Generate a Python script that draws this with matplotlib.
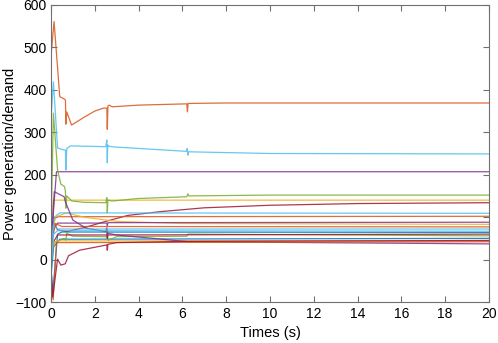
import matplotlib
matplotlib.use('Agg')
from matplotlib import pyplot as plt

# MATLAB default colour order
blue = '#0072bd'
orange = '#d95319'
yellow = '#edb120'
purple = '#7e2f8e'
green = '#77ac30'
cyan = '#4dbeee'
maroon = '#a2142f'

# each line: time keypoints, value keypoints, colour
t_orange1 = [0, 0.14, 0.4, 0.62, 0.66, 0.68, 0.72, 0.94, 1.5, 2.0, 2.4, 2.55, 2.57, 2.6, 2.65, 2.8, 4, 6.2, 6.23, 6.26, 8, 12, 20]
v_orange1 = [480, 561, 384, 378, 376, 319, 348, 317, 335, 350, 357, 357, 307, 362, 364, 360, 364, 367, 348, 368, 369, 369, 369]

t_cyan1 = [0, 0.11, 0.3, 0.62, 0.66, 0.68, 0.72, 0.9, 2.5, 2.55, 2.57, 2.59, 2.62, 3, 6.2, 6.22, 6.25, 6.28, 10, 20]
v_cyan1 = [330, 419, 263, 258, 258, 211, 262, 268, 266, 282, 228, 270, 267, 265, 255, 262, 246, 254, 250, 249]

t_purple1 = [0, 0.12, 0.25, 20]
v_purple1 = [0, 120, 207, 207]

t_green1 = [0, 0.11, 0.3, 0.45, 0.62, 0.66, 0.68, 0.72, 0.95, 1.5, 2.5, 2.55, 2.57, 2.6, 2.8, 4, 6.2, 6.25, 6.3, 10, 20]
v_green1 = [60, 345, 211, 178, 172, 160, 121, 150, 138, 135, 134, 146, 110, 140, 138, 144, 148, 155, 150, 152, 152]

t_yellow1 = [0, 0.1, 20]
v_yellow1 = [70, 140, 140]

t_maroon1 = [0, 0.1, 0.3, 0.7, 1.5, 2.5, 3.5, 5, 7, 10, 14, 20]
v_maroon1 = [40, 90, 70, 66, 75, 90, 104, 113, 122, 128, 132, 134]

t_cyan2 = [0, 0.15, 0.4, 20]
v_cyan2 = [30, 100, 110, 109]

t_orange2 = [0, 0.12, 0.3, 20]
v_orange2 = [20, 95, 101, 102]

t_purple2 = [0, 0.1, 0.3, 2.55, 2.57, 2.6, 20]
v_purple2 = [10, 70, 86, 86, 80, 87, 88]

t_yellow2 = [0, 0.2, 0.7, 1.5, 3, 6, 20]
v_yellow2 = [40, 100, 110, 100, 90, 85, 83]

t_orange3 = [0, 0.2, 0.5, 20]
v_orange3 = [30, 85, 78, 77]

t_cyan3 = [0, 0.1, 0.3, 20]
v_cyan3 = [20, 80, 72, 72]

t_cyan4 = [0, 0.12, 0.3, 20]
v_cyan4 = [-30, 60, 68, 67]

t_blue1 = [0, 0.08, 0.3, 0.5, 20]
v_blue1 = [-20, -80, 60, 65, 64]

t_maroon2 = [0, 0.1, 0.3, 2.55, 2.57, 2.6, 20]
v_maroon2 = [0, 40, 58, 58, 50, 58, 60]

t_blue2 = [0, 0.12, 0.4, 20]
v_blue2 = [-40, 30, 48, 50]

t_green2 = [0, 0.15, 0.6, 0.68, 0.72, 1, 2.55, 2.57, 2.6, 3, 6.2, 6.25, 20]
v_green2 = [0, 40, 50, 45, 62, 55, 54, 72, 45, 54, 55, 60, 56]

t_yellow3 = [0, 0.1, 0.3, 20]
v_yellow3 = [10, 40, 44, 45]

t_orange4 = [0, 0.1, 0.25, 20]
v_orange4 = [-60, -95, 40, 42]

t_purple3 = [0, 0.15, 0.6, 0.65, 1.0, 1.6, 2.5, 2.55, 2.57, 2.6, 3.0, 6.3, 20]
v_purple3 = [20, 160, 148, 137, 93, 74, 66, 75, 58, 62, 58, 42, 37]

t_maroon3 = [0, 0.08, 0.3, 0.45, 0.65, 0.8, 1.3, 2.5, 2.55, 2.57, 2.6, 3.0, 6.3, 20]
v_maroon3 = [-20, -88, 1, -13, -10, 9, 22, 34, 35, 22, 36, 40, 43, 45]

lines = [
    (t_blue1, v_blue1, blue),
    (t_orange1, v_orange1, orange),
    (t_yellow1, v_yellow1, yellow),
    (t_purple1, v_purple1, purple),
    (t_green1, v_green1, green),
    (t_cyan1, v_cyan1, cyan),
    (t_maroon1, v_maroon1, maroon),
    (t_blue2, v_blue2, blue),
    (t_orange2, v_orange2, orange),
    (t_yellow2, v_yellow2, yellow),
    (t_purple2, v_purple2, purple),
    (t_green2, v_green2, green),
    (t_cyan2, v_cyan2, cyan),
    (t_maroon2, v_maroon2, maroon),
    (t_orange3, v_orange3, orange),
    (t_yellow3, v_yellow3, yellow),
    (t_purple3, v_purple3, purple),
    (t_cyan3, v_cyan3, cyan),
    (t_cyan4, v_cyan4, cyan),
    (t_orange4, v_orange4, orange),
    (t_maroon3, v_maroon3, maroon),
]

plt.rcParams['font.family'] = ['Liberation Sans', 'DejaVu Sans']
fig = plt.figure(figsize=(4.98, 3.43), dpi=100)
ax = fig.add_axes([0.1024, 0.1195, 0.8795, 0.866])

for t, v, c in lines:
    ax.plot(t, v, color=c, linewidth=0.9, alpha=0.85)

ax.set_xlim(0, 20)
ax.set_ylim(-100, 600)
ax.set_xticks(range(0, 21, 2))
ax.set_yticks(range(-100, 601, 100))
ax.tick_params(direction='in', top=True, right=True, length=4, width=0.8,
               color='#707070', labelsize=10)
ax.tick_params(axis='x', pad=3.5)
ax.tick_params(axis='y', pad=3)
for s in ax.spines.values():
    s.set_color('#707070')
    s.set_linewidth(0.8)
ax.set_xlabel('Times (s)', fontsize=10.5, labelpad=4)
ax.set_ylabel('Power generation/demand', fontsize=10.5)
ax.yaxis.set_label_coords(-0.078, 0.5)

fig.savefig('out.png', dpi=100)
